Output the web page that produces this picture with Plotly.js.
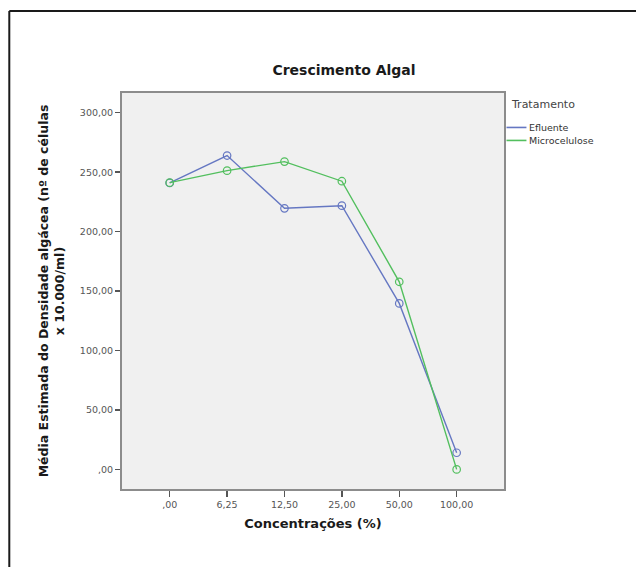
<!DOCTYPE html>
<html>
<head>
<meta charset="utf-8">
<script src="https://cdn.plot.ly/plotly-3.0.1.min.js"></script>
<style>html,body{margin:0;padding:0;background:#fff;}#chart{width:636px;height:567px;}</style>
</head>
<body>
<div id="chart"></div>
<script>
// Data
const categories = [',00', '6,25', '12,50', '25,00', '50,00', '100,00'];
const efluente = [241.0, 264.0, 219.6, 221.8, 139.6, 14.0];
const microcelulose = [241.2, 251.3, 258.9, 242.4, 157.8, 0.0];
const yTickVals = [0, 50, 100, 150, 200, 250, 300];
const yTickText = [',00', '50,00', '100,00', '150,00', '200,00', '250,00', '300,00'];
const seriesNames = ['Efluente', 'Microcelulose'];
const legendTitle = 'Tratamento';

const W = 636, H = 567;
const L = 121.5, R = 504.5, T = 92.5, B = 489;
const px = x => (x - L) / (R - L);
const py = y => (B - y) / (B - T);

const blue = '#6577c2';
const green = '#52bf5e';
const FONT = 'DejaVu Sans, Arial, sans-serif';

const traces = [
  {x: categories, y: efluente, name: seriesNames[0], type: 'scatter', mode: 'lines+markers',
   line: {color: blue, width: 1.4}, marker: {symbol: 'circle-open', size: 7.5, color: blue, line: {width: 1.2, color: blue}}},
  {x: categories, y: microcelulose, name: seriesNames[1], type: 'scatter', mode: 'lines+markers',
   line: {color: green, width: 1.4}, marker: {symbol: 'circle-open', size: 7.5, color: green, line: {width: 1.2, color: green}}}
];

const layout = {
  width: W, height: H,
  margin: {l: L, r: W - R, t: T, b: H - B, pad: 0},
  paper_bgcolor: '#ffffff',
  plot_bgcolor: '#f0f0f0',
  showlegend: false,
  font: {family: FONT, color: '#333'},
  title: {text: '<b>Crescimento Algal</b>', x: 344 / W, xanchor: 'center', y: 1 - 70 / H, yanchor: 'middle',
          font: {family: FONT, size: 14, color: '#1a1a1a'}},
  xaxis: {
    type: 'category', range: [-0.831, 5.825], showgrid: false, zeroline: false,
    showline: true, linecolor: '#8c8c8c', linewidth: 2, mirror: true,
    ticks: 'outside', ticklen: 6, tickwidth: 1.5, tickcolor: '#555',
    tickfont: {family: FONT, size: 9.5, color: '#555'},
    title: {text: '<b>Concentrações (%)</b>', standoff: 9, font: {family: FONT, size: 13, color: '#1a1a1a'}}
  },
  yaxis: {
    range: [-16.5, 316.6], showgrid: false, zeroline: false,
    showline: true, linecolor: '#8c8c8c', linewidth: 2, mirror: true,
    ticks: 'outside', ticklen: 5, tickwidth: 1.5, tickcolor: '#555',
    tickvals: yTickVals, ticktext: yTickText,
    tickfont: {family: FONT, size: 9.5, color: '#555'},
    title: {text: '<b>Média Estimada do Densidade algácea (nº de células<br>x 10.000/ml)</b>', standoff: 12,
            font: {family: FONT, size: 12.5, color: '#1a1a1a'}}
  },
  shapes: [
    // outer frame (top and left edges)
    {type: 'line', xref: 'paper', yref: 'paper', x0: px(8.5), x1: px(640), y0: py(10.5), y1: py(10.5), line: {color: '#1a1a1a', width: 2}},
    {type: 'line', xref: 'paper', yref: 'paper', x0: px(8.5), x1: px(8.5), y0: py(10.5), y1: py(570), line: {color: '#1a1a1a', width: 2}},
    // legend samples
    {type: 'line', xref: 'paper', yref: 'paper', x0: px(507), x1: px(527), y0: py(127), y1: py(127), line: {color: blue, width: 1.6}},
    {type: 'line', xref: 'paper', yref: 'paper', x0: px(507), x1: px(527), y0: py(140), y1: py(140), line: {color: green, width: 1.6}}
  ],
  annotations: [
    {text: legendTitle, xref: 'paper', yref: 'paper', x: px(510), y: py(104), xanchor: 'left', yanchor: 'middle',
     showarrow: false, font: {family: FONT, size: 11, color: '#444'}},
    {text: seriesNames[0], xref: 'paper', yref: 'paper', x: px(528), y: py(127), xanchor: 'left', yanchor: 'middle',
     showarrow: false, font: {family: FONT, size: 9.5, color: '#333'}},
    {text: seriesNames[1], xref: 'paper', yref: 'paper', x: px(528), y: py(140), xanchor: 'left', yanchor: 'middle',
     showarrow: false, font: {family: FONT, size: 9.5, color: '#333'}}
  ]
};

Plotly.newPlot('chart', traces, layout, {staticPlot: true, displayModeBar: false});
</script>
</body>
</html>
